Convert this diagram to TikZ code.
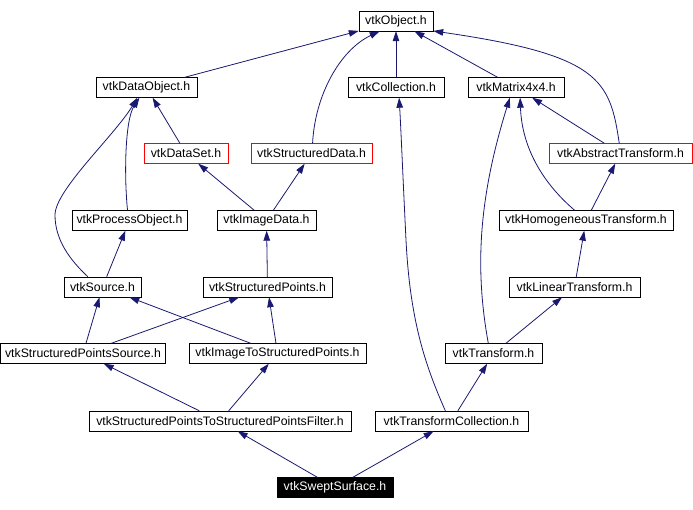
\documentclass[tikz,border=0pt]{standalone}
\usepackage{fontspec}
\setmainfont{Liberation Sans}
\usetikzlibrary{arrows.meta,positioning}
\definecolor{edgeblue}{HTML}{191970}

\begin{document}
\begin{tikzpicture}[x=1pt,y=-1pt,
box/.style={draw,rectangle,minimum height=20pt,inner sep=2pt,font=\fontsize{12.3}{14}\selectfont},
redbox/.style={box,draw=red},
curbox/.style={box,fill=black,text=white},
edge/.style={draw=edgeblue,line width=0.8pt,-{Triangle[length=10pt,width=6.5pt]}},]
\useasboundingbox (0,0) rectangle (693,509);
\node[box,minimum width=74] (obj) at (396,21) {vtkObject.h};
\node[box,minimum width=101] (dobj) at (146.5,87.5) {vtkDataObject.h};
\node[box,minimum width=96] (coll) at (396,87.5) {vtkCollection.h};
\node[box,minimum width=96] (mat) at (516,87.5) {vtkMatrix4x4.h};
\node[redbox,minimum width=84] (dset) at (186,153.5) {vtkDataSet.h};
\node[redbox,minimum width=121] (sdata) at (311.5,153.5) {vtkStructuredData.h};
\node[redbox,minimum width=143] (abst) at (620.5,153.5) {vtkAbstractTransform.h};
\node[box,minimum width=115] (proc) at (129.5,220.5) {vtkProcessObject.h};
\node[box,minimum width=99] (img) at (266.5,220.5) {vtkImageData.h};
\node[box,minimum width=174] (homog) at (586,220.5) {vtkHomogeneousTransform.h};
\node[box,minimum width=77] (src) at (102.5,287) {vtkSource.h};
\node[box,minimum width=129] (spts) at (267.5,287) {vtkStructuredPoints.h};
\node[box,minimum width=131] (lin) at (574.5,287) {vtkLinearTransform.h};
\node[box,minimum width=165] (spsrc) at (83,353.5) {vtkStructuredPointsSource.h};
\node[box,minimum width=177] (itsp) at (277.5,353.5) {vtkImageToStructuredPoints.h};
\node[box,minimum width=97] (trans) at (493.5,353.5) {vtkTransform.h};
\node[box,minimum width=262] (filt) at (220,421) {vtkStructuredPointsToStructuredPointsFilter.h};
\node[box,minimum width=153] (tcoll) at (451.5,421) {vtkTransformCollection.h};
\node[curbox,minimum width=116] (swept) at (335,487.5) {vtkSweptSurface.h};

\draw[edge] (dobj) -- (obj);
\draw[edge] (sdata.84) .. controls (315,95) and (340,50) .. (obj.-148);
\draw[edge] (coll) -- (obj);
\draw[edge] (mat) -- (obj);
\draw[edge] (abst.97) .. controls (610,80) and (600,55) .. (obj.-15);
\draw[edge] (abst) -- (mat);
\draw[edge] (dset) -- (dobj);
\draw[edge] (proc.101) .. controls (124,175) and (125,120) .. (dobj.-125);
\draw[edge] (src.145) .. controls (70,260) and (55,240) .. (55,215)
                      .. controls (55,190) and (115,135) .. (dobj.-132);
\draw[edge] (img) -- (dset);
\draw[edge] (img) -- (sdata);
\draw[edge] (src) -- (proc);
\draw[edge] (spts) -- (img);
\draw[edge] (homog.138) .. controls (545,185) and (522,150) .. (mat.-68);
\draw[edge] (homog) -- (abst);
\draw[edge] (lin) -- (homog);
\draw[edge] (spsrc) -- (src);
\draw[edge] (itsp) -- (src);
\draw[edge] (spsrc) -- (spts);
\draw[edge] (itsp) -- (spts);
\draw[edge] (trans.117) .. controls (475,270) and (478,200) .. (mat.-121);
\draw[edge] (trans) -- (lin);
\draw[edge] (tcoll.121) .. controls (425,365) and (410,320) .. (406,240)
                        .. controls (403,180) and (401,130) .. (coll.-73);
\draw[edge] (tcoll) -- (trans);
\draw[edge] (filt) -- (spsrc);
\draw[edge] (filt) -- (itsp);
\draw[edge] (swept) -- (filt);
\draw[edge] (swept) -- (tcoll);
\end{tikzpicture}
\end{document}
